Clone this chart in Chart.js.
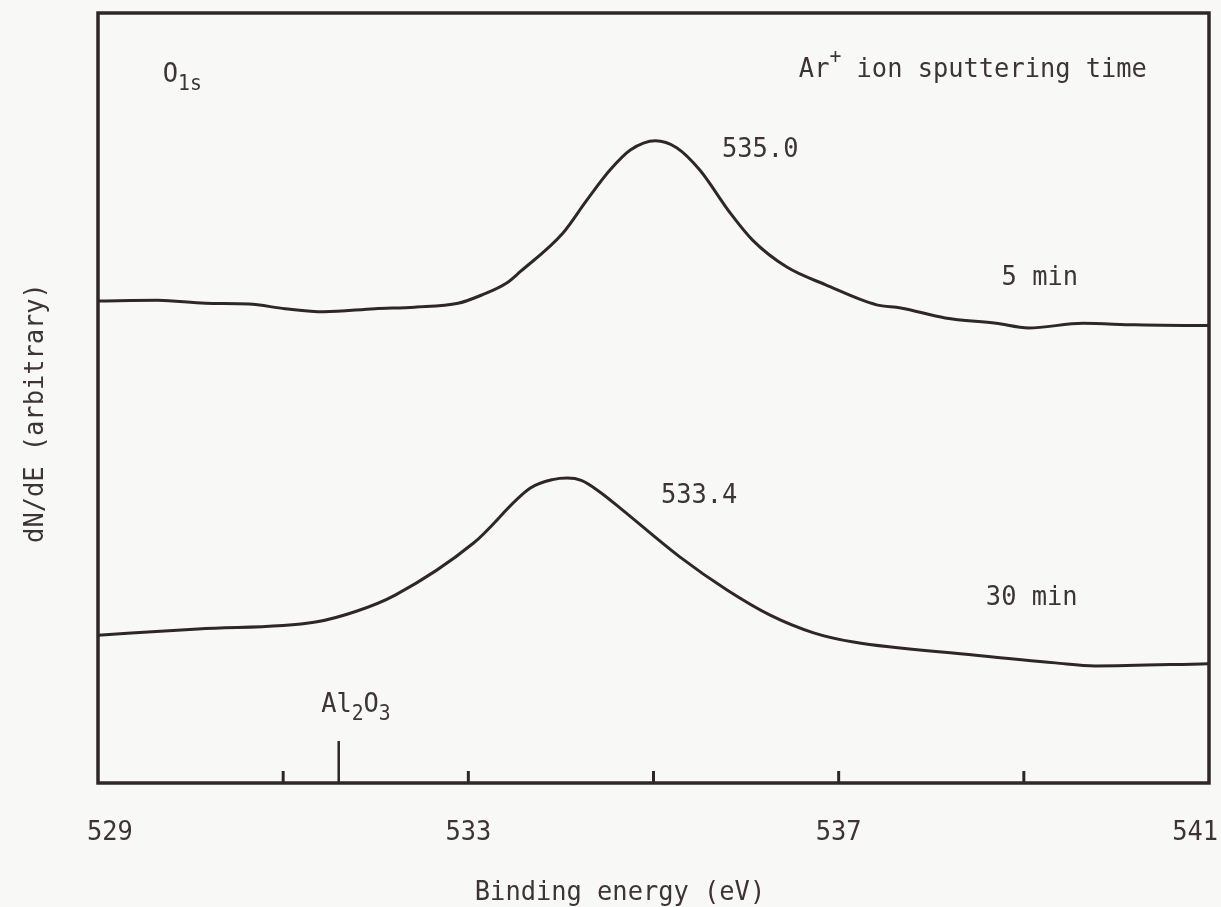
<!DOCTYPE html>
<html>
<head>
<meta charset="utf-8">
<title>O1s spectra</title>
<script src="https://cdn.jsdelivr.net/npm/chart.js@4/dist/chart.umd.min.js"></script>
<style>
	html, body { margin: 0; padding: 0; background: #f8f8f6; }
	canvas { display: block; }
</style>
</head>
<body>
<canvas id="spectrum" width="1221" height="907"></canvas>
<script>

// binding energy (eV) and dN/dE (arbitrary units, 0-100 across the frame)
const energy5 = [529.00, 529.65, 530.16, 530.63, 531.02, 531.44, 531.99, 532.42, 532.89, 533.15, 533.41, 533.56, 534.02, 534.28, 534.53, 534.75, 535.02, 535.25, 535.50, 535.83, 536.07, 536.44, 536.86, 537.41, 537.67, 538.15, 538.70, 539.05, 539.64, 540.20, 541.00];
const signal5 = [62.6, 62.7, 62.3, 62.2, 61.6, 61.2, 61.6, 61.8, 62.3, 63.4, 64.9, 66.4, 71.4, 75.7, 79.6, 82.2, 83.4, 82.5, 79.6, 74.0, 70.5, 67.0, 64.7, 62.1, 61.7, 60.4, 59.7, 59.1, 59.7, 59.5, 59.4];

const energy30 = [529.00, 530.08, 531.35, 531.79, 532.21, 533.06, 533.67, 533.91, 534.07, 534.22, 534.42, 534.66, 535.28, 535.79, 536.26, 536.73, 537.16, 538.48, 539.34, 539.77, 540.99];
const signal30 = [19.2, 20.0, 20.9, 22.3, 24.4, 31.2, 38.3, 39.4, 39.6, 39.3, 37.8, 35.5, 29.4, 25.1, 21.8, 19.5, 18.3, 16.6, 15.6, 15.2, 15.5];

const tickValues = [531, 533, 535, 537, 539];
const tickLabels = [529, 533, 537, 541];
const al2o3Energy = 531.6;

const peak5 = '535.0';
const peak30 = '533.4';

const ink = '#2f2727';
const textInk = '#3d3535';
const fontFamily = '"DejaVu Sans Mono", monospace';
const squeeze = 0.94;


function toPoints(xs, ys)
{
	return xs.map((x, i) => ({ x: x, y: ys[i] }));
}


// narrow plotter-like lettering: a larger font squeezed sideways
function drawText(ctx, text, x, y, size)
{
	ctx.save();
	ctx.font = size + 'px ' + fontFamily;
	ctx.translate(x, y);
	ctx.scale(squeeze, 1);
	ctx.fillText(text, 0, 0);
	const w = ctx.measureText(text).width * squeeze;
	ctx.restore();
	return w;
}


// a run of text pieces, some of them raised or lowered
function drawRich(ctx, x, y, parts)
{
	let cx = x;
	parts.forEach(p => {
		const size = p.sub || p.sup ? 21 : 27;
		const dy = p.sub ? 8 : (p.sup ? -14 : 0);
		cx += drawText(ctx, p.t, cx, y + dy, size);
	});
}


const labels = [
	{ x: 529.70, y: 91.0, parts: [{ t: 'O' }, { t: '1s', sub: true }] },
	{ x: 536.57, y: 91.7, parts: [{ t: 'Ar' }, { t: '+', sup: true }, { t: ' ion sputtering time' }] },
	{ x: 535.74, y: 81.3, parts: [{ t: peak5 }] },
	{ x: 538.76, y: 64.7, parts: [{ t: '5 min' }] },
	{ x: 535.08, y: 36.4, parts: [{ t: peak30 }] },
	{ x: 538.59, y: 23.1, parts: [{ t: '30 min' }] },
	{ x: 531.41, y: 9.2, parts: [{ t: 'Al' }, { t: '2', sub: true }, { t: 'O' }, { t: '3', sub: true }] },
];


const framePlugin = {
	id: 'frame',

	beforeDraw(chart)
	{
		const ctx = chart.ctx;
		ctx.save();
		ctx.fillStyle = '#f8f8f6';
		ctx.fillRect(0, 0, chart.width, chart.height);
		ctx.restore();
	},

	afterDraw(chart)
	{
		const ctx = chart.ctx;
		const area = chart.chartArea;
		const xs = chart.scales.x;
		const ys = chart.scales.y;

		ctx.save();
		ctx.strokeStyle = ink;
		ctx.lineWidth = 3.5;
		ctx.strokeRect(area.left, area.top, area.right - area.left, area.bottom - area.top);

		// inward tick marks
		ctx.lineWidth = 3;
		tickValues.forEach(v => {
			const px = xs.getPixelForValue(v);
			ctx.beginPath();
			ctx.moveTo(px, area.bottom);
			ctx.lineTo(px, area.bottom - 12);
			ctx.stroke();
		});

		// Al2O3 reference line
		ctx.lineWidth = 2.5;
		const ax = xs.getPixelForValue(al2o3Energy);
		ctx.beginPath();
		ctx.moveTo(ax, area.bottom);
		ctx.lineTo(ax, area.bottom - 42);
		ctx.stroke();

		ctx.fillStyle = textInk;
		ctx.textBaseline = 'alphabetic';

		// tick labels, end ones pulled inside
		tickLabels.forEach((v, i) => {
			const px = xs.getPixelForValue(v);
			if (i === 0) {
				ctx.textAlign = 'left';
				drawText(ctx, String(v), px - 11, 840, 27);
			} else if (i === tickLabels.length - 1) {
				ctx.textAlign = 'right';
				drawText(ctx, String(v), px + 9, 840, 27);
			} else {
				ctx.textAlign = 'center';
				drawText(ctx, String(v), px, 840, 27);
			}
		});

		// annotations
		ctx.textAlign = 'left';
		labels.forEach(l => {
			drawRich(ctx, xs.getPixelForValue(l.x), ys.getPixelForValue(l.y), l.parts);
		});

		// axis titles
		ctx.textAlign = 'center';
		drawText(ctx, 'Binding energy (eV)', 620, 900, 27);

		ctx.translate(43, 413);
		ctx.rotate(-Math.PI / 2);
		drawText(ctx, 'dN/dE (arbitrary)', 0, 0, 27);
		ctx.restore();
	}
};


const lineStyle = {
	borderColor: ink,
	borderWidth: 3,
	pointRadius: 0,
	fill: false,
	cubicInterpolationMode: 'monotone',
};

new Chart(
	document.getElementById('spectrum'), {
		type: 'line',
		data: {
			datasets: [
				Object.assign({ label: '5 min', data: toPoints(energy5, signal5) }, lineStyle),
				Object.assign({ label: '30 min', data: toPoints(energy30, signal30) }, lineStyle),
			]
		},
		options: {
			responsive: false,
			animation: false,
			layout: {
				padding: { left: 98, top: 13, right: 12, bottom: 124 }
			},
			plugins: {
				legend: { display: false },
				tooltip: { enabled: false },
			},
			scales: {
				x: { type: 'linear', min: 529, max: 541, display: false },
				y: { min: 0, max: 100, display: false },
			}
		},
		plugins: [framePlugin]
	}
);

</script>
</body>
</html>
